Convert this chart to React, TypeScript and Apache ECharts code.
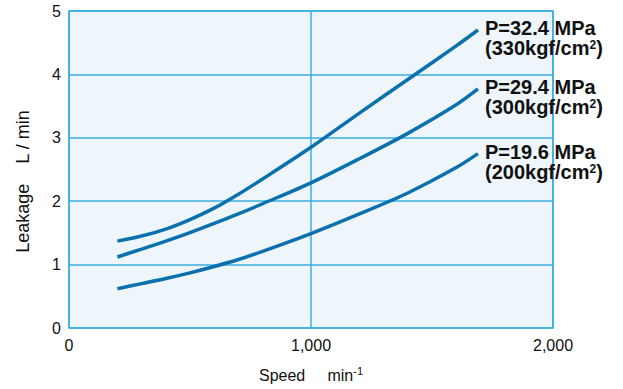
import React, { useEffect, useRef } from "react";
import * as echarts from "echarts";

const speeds = [200, 300, 400, 500, 600, 700, 800, 1000, 1200, 1400, 1600, 1690];
const leak324 = [1.37, 1.45, 1.56, 1.71, 1.89, 2.11, 2.35, 2.85, 3.39, 3.92, 4.45, 4.7];
const leak294 = [1.12, 1.245, 1.37, 1.505, 1.65, 1.8, 1.96, 2.29, 2.67, 3.07, 3.52, 3.77];
const leak196 = [0.62, 0.7, 0.78, 0.87, 0.97, 1.08, 1.21, 1.49, 1.8, 2.13, 2.53, 2.75];
const seriesNames = ["P=32.4 MPa", "P=29.4 MPa", "P=19.6 MPa"];
const seriesUnits = ["(330kgf/cm", "(300kgf/cm", "(200kgf/cm"];
const xTicks = [0, 1000, 2000];

const FONT = "'Liberation Sans', Arial, Helvetica, sans-serif";
const GRID = "#3aaee2";
const LINE = "#0b70ae";

export default function App() {
  const ref = useRef<HTMLDivElement>(null);
  useEffect(() => {
    if (!ref.current) return;
    const chart = echarts.init(ref.current, null, { renderer: "svg" });
    const all = [leak324, leak294, leak196];
    chart.setOption({
      animation: false,
      backgroundColor: "#ffffff",
      textStyle: { fontFamily: FONT },
      grid: {
        left: 69,
        right: 70,
        top: 11,
        bottom: 56,
        show: true,
        backgroundColor: "#eef6fc",
        borderColor: GRID,
        borderWidth: 1.5,
      },
      xAxis: {
        type: "value",
        min: 0,
        max: 2000,
        interval: 1000,
        axisLine: { show: false },
        axisTick: { show: false },
        splitLine: { show: true, lineStyle: { color: GRID, width: 1.5 } },
        axisLabel: {
          color: "#111",
          fontSize: 16,
          fontFamily: FONT,
          margin: 9,
          formatter: (v: number) => (xTicks.includes(v) ? v.toLocaleString("en-US") : ""),
        },
        name: "{a|Speed     min}{s|-1}",
        nameLocation: "middle",
        nameGap: 37,
        nameTextStyle: {
          rich: {
            a: { fontSize: 16, color: "#111", fontFamily: FONT, verticalAlign: "bottom", lineHeight: 18 },
            s: { fontSize: 11, color: "#111", fontFamily: FONT, verticalAlign: "top", lineHeight: 18, padding: [0, 0, 8, 0] },
          },
        },
      },
      yAxis: {
        type: "value",
        min: 0,
        max: 5,
        interval: 1,
        axisLine: { show: false },
        axisTick: { show: false },
        splitLine: { show: true, lineStyle: { color: GRID, width: 1.5 } },
        axisLabel: { color: "#111", fontSize: 16, fontFamily: FONT, margin: 8 },
        name: "Leakage    L / min",
        nameLocation: "middle",
        nameGap: 37,
        nameTextStyle: { color: "#111", fontSize: 18, fontFamily: FONT, padding: [0, 24, 0, 0] },
      },
      series: all.map((vals, i) => ({
        type: "line",
        name: seriesNames[i],
        data: speeds.map((s, j) => [s, vals[j]]),
        smooth: 0.3,
        showSymbol: false,
        lineStyle: { color: LINE, width: 3.5 },
        endLabel: {
          show: true,
          distance: 7,
          offset: [0, 8],
          formatter: () => `{m|${seriesNames[i]}}\n{m|${seriesUnits[i]}}{s|2}{m|)}`,
          align: "left",
          rich: {
            m: { color: "#111", fontSize: 20, lineHeight: 20, fontWeight: "bold", fontFamily: FONT, verticalAlign: "middle" },
            s: { color: "#111", fontSize: 12, lineHeight: 20, fontWeight: "bold", fontFamily: FONT, verticalAlign: "top", padding: [1, 0, 0, 0] },
          },
        },
      })),
    });
    return () => chart.dispose();
  }, []);
  return <div ref={ref} style={{ width: 623, height: 389, position: "absolute", left: 0, top: 0 }} />;
}
